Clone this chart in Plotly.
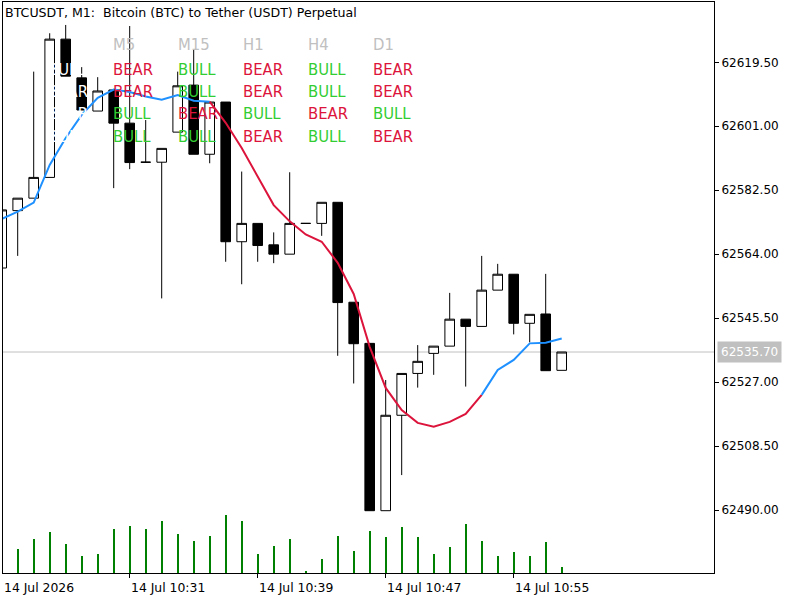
import plotly.graph_objects as go

# ---------------- data ----------------
bar_index = list(range(-1, 35))  # M1 bars, 10:23 .. 10:58

opens = [62560.0, 62576.6, 62580.2, 62586.2, 62626.2, 62615.0, 62605.4, 62611.5, 62601.9, 62590.6,
         62590.6, 62599.3, 62612.9, 62592.9, 62608.0, 62567.6, 62572.9, 62566.7, 62564.0, 62572.9,
         62572.9, 62579.0, 62550.1, 62538.2, 62489.8, 62517.4, 62529.5, 62535.3, 62537.4, 62545.2,
         62543.1, 62553.6, 62558.2, 62544.0, 62546.7, 62530.4]
highs = [62577.0, 62580.2, 62616.8, 62627.9, 62630.3, 62618.1, 62615.2, 62611.5, 62630.0, 62602.8,
         62594.6, 62616.8, 62623.3, 62608.0, 62608.0, 62587.9, 62572.9, 62570.3, 62587.7, 62572.9,
         62579.0, 62579.0, 62550.1, 62538.2, 62527.6, 62529.5, 62537.7, 62537.4, 62552.8, 62545.2,
         62563.5, 62561.2, 62558.2, 62546.6, 62558.3, 62535.7]
lows = [62559.5, 62563.5, 62580.2, 62586.2, 62615.5, 62605.7, 62605.4, 62583.1, 62588.6, 62590.6,
        62551.2, 62599.3, 62592.9, 62590.3, 62561.8, 62555.3, 62561.8, 62561.4, 62564.0, 62572.9,
        62569.3, 62534.6, 62526.6, 62489.8, 62489.8, 62500.1, 62525.4, 62529.1, 62537.4, 62525.7,
        62543.1, 62553.6, 62540.8, 62538.5, 62530.3, 62530.4]
closes = [62576.8, 62580.2, 62586.2, 62626.2, 62615.5, 62605.7, 62611.2, 62601.9, 62590.5, 62590.6,
          62594.6, 62612.7, 62592.9, 62608.0, 62567.6, 62572.9, 62566.5, 62564.0, 62572.9, 62572.9,
          62579.0, 62550.0, 62538.1, 62489.8, 62517.4, 62529.5, 62533.0, 62537.4, 62545.2, 62543.1,
          62553.6, 62558.2, 62544.0, 62546.6, 62530.3, 62535.7]
volumes = [60, 49, 69, 83, 59, 35, 39, 89, 95, 89, 105, 79, 65, 75, 117, 105, 39, 55, 69, 5,
           29, 75, 45, 85, 73, 93, 73, 39, 53, 99, 65, 35, 43, 35, 63, 13]
ma_values = [62574.2, 62576.3, 62578.9, 62589.8, 62597.6, 62604.3, 62609.2, 62611.6, 62610.9, 62609.6,
             62608.7, 62610.0, 62608.4, 62608.1, 62602.0, 62594.7, 62586.6, 62578.2, 62573.5, 62569.7,
             62567.6, 62561.5, 62552.5, 62537.2, 62525.3, 62518.9, 62515.2, 62514.1, 62515.5, 62517.8,
             62523.3, 62530.5, 62533.4, 62538.2, 62538.4, 62539.6]
ma_trend = ["up"] * 14 + ["down"] * 17 + ["up"] * 5

price_ticks = [62490.00, 62508.50, 62527.00, 62545.50, 62564.00, 62582.50, 62601.00, 62619.50]
time_tick_idx = [-1, 7, 15, 23, 31]
time_tick_labels = ["14 Jul 2026", "14 Jul 10:31", "14 Jul 10:39", "14 Jul 10:47", "14 Jul 10:55"]

title_text = "BTCUSDT, M1:  Bitcoin (BTC) to Tether (USDT) Perpetual"
tf_headers = ["", "M5", "M15", "H1", "H4", "D1"]
tf_signals = [
    ["BULL", "BEAR", "BULL", "BEAR", "BULL", "BEAR"],
    ["BEAR", "BEAR", "BULL", "BEAR", "BULL", "BEAR"],
    ["BEAR", "BULL", "BEAR", "BULL", "BEAR", "BULL"],
    ["BULL", "BULL", "BULL", "BEAR", "BULL", "BEAR"],
]

# ---------------- styles ----------------
W, H = 800, 600
ML, MR, MT, MB = 3, 86, 2, 27
PW, PH = W - ML - MR, H - MT - MB
AX_FONT = dict(family="DejaVu Sans", size=12, color="black")
XL_FONT = dict(family="DejaVu Sans", size=12.4, color="black")
TITLE_FONT = dict(family="DejaVu Sans", size=12.6, color="black")
TBL_FONT = "DejaVu Sans Condensed, DejaVu Sans"
UP_COL, DOWN_COL = "#1E90FF", "#DC143C"
BULL_COL, BEAR_COL, HDR_COL = "#32CD32", "#DC143C", "#C0C0C0"
col_px = [48, 113, 178, 243, 308, 373]
hdr_py = 45
row_py = [69.5, 91.5, 113.5, 136]


def px2x(px):
    return (px - ML) / PW


def py2y(py):
    return (H - MB - py) / PH


top_px, bot_px = MT, H - MB
scale = (510.0 - 62.3) / (62619.5 - 62490.0)  # px per price unit
y_top = 62490.0 + (510.0 - top_px) / scale
y_bot = 62490.0 - (bot_px - 510.0) / scale
x_left = -1 + (ML - 1.7) / 16.0
x_right = x_left + PW / 16.0


def idx2paper(v):
    return (v - x_left) / (x_right - x_left)


fig = go.Figure()

# volumes
fig.add_trace(go.Bar(x=bar_index, y=volumes, yaxis="y2", width=0.14,
                     marker=dict(color="#008000", line=dict(width=0)), hoverinfo="skip"))

# candles
fig.add_trace(go.Candlestick(
    x=bar_index, open=opens, high=highs, low=lows, close=closes,
    increasing=dict(fillcolor="white", line=dict(color="black", width=1)),
    decreasing=dict(fillcolor="black", line=dict(color="black", width=1)),
    whiskerwidth=0, hoverinfo="skip", showlegend=False))

# moving average, coloured by trend
segments = []
start = 1
for j in range(2, len(ma_values) + 1):
    if j == len(ma_values) or ma_trend[j] != ma_trend[start]:
        segments.append((start - 1, j - 1, ma_trend[start]))
        start = j
for a, b, trend in segments:
    fig.add_trace(go.Scatter(x=bar_index[a:b + 1], y=ma_values[a:b + 1], mode="lines",
                             line=dict(color=UP_COL if trend == "up" else DOWN_COL, width=2),
                             hoverinfo="skip", showlegend=False))

# current price line
fig.add_shape(type="line", xref="paper", x0=0, x1=1, yref="y", y0=closes[-1], y1=closes[-1],
              line=dict(color="#C0C0C0", width=1), layer="below")

ann = []
ann.append(dict(xref="paper", x=1, xanchor="left", xshift=3, yref="y", y=closes[-1],
                yanchor="middle", text=f"{closes[-1]:.2f}", showarrow=False,
                bgcolor="#C0C0C0", borderpad=3,
                font=dict(family="DejaVu Sans", size=12, color="white")))
ann.append(dict(xref="paper", x=px2x(3), xanchor="left", yref="paper", y=py2y(12),
                yanchor="middle", text=title_text.replace("  ", " \u00a0"), showarrow=False,
                font=TITLE_FONT))
for idx, lab in zip(time_tick_idx, time_tick_labels):
    xp = max(idx2paper(idx), 0.0)
    ann.append(dict(xref="paper", x=xp, xanchor="left", xshift=-1, yref="paper", y=0,
                    yanchor="top", yshift=-5, text=lab, showarrow=False, font=XL_FONT))

for c, hdr in enumerate(tf_headers):
    if hdr:
        ann.append(dict(xref="paper", x=px2x(col_px[c] - 2), xanchor="left", yref="paper",
                        y=py2y(hdr_py), yanchor="middle", text=hdr, showarrow=False,
                        font=dict(family=TBL_FONT, size=16.5, color=HDR_COL)))
    for r in range(len(tf_signals)):
        sig = tf_signals[r][c]
        colr = "white" if c == 0 else (BULL_COL if sig == "BULL" else BEAR_COL)
        ann.append(dict(xref="paper", x=px2x(col_px[c] - 2), xanchor="left", yref="paper",
                        y=py2y(row_py[r]), yanchor="middle", text=sig, showarrow=False,
                        font=dict(family=TBL_FONT, size=16.5, color=colr)))

fig.update_layout(
    width=W, height=H, margin=dict(l=ML, r=MR, t=MT, b=MB, pad=0),
    paper_bgcolor="white", plot_bgcolor="white", showlegend=False,
    boxgap=0.4, boxgroupgap=0, bargap=0,
    annotations=ann, hovermode=False,
    xaxis=dict(range=[x_left, x_right], showgrid=False, zeroline=False,
               showline=True, mirror=True, linecolor="black", linewidth=1,
               ticks="outside", ticklen=4, tickcolor="black", tickvals=time_tick_idx,
               showticklabels=False, rangeslider=dict(visible=False), fixedrange=True),
    yaxis=dict(range=[y_bot, y_top], side="right", showgrid=False, zeroline=False,
               showline=True, mirror=True, linecolor="black", linewidth=1,
               ticks="outside", ticklen=4, tickcolor="black", tickvals=price_ticks,
               tickformat=".2f", tickfont=AX_FONT, fixedrange=True),
    yaxis2=dict(overlaying="y", range=[0, PH * 2.0], visible=False, fixedrange=True),
)

fig.write_html("out.html", config={"displayModeBar": False})
